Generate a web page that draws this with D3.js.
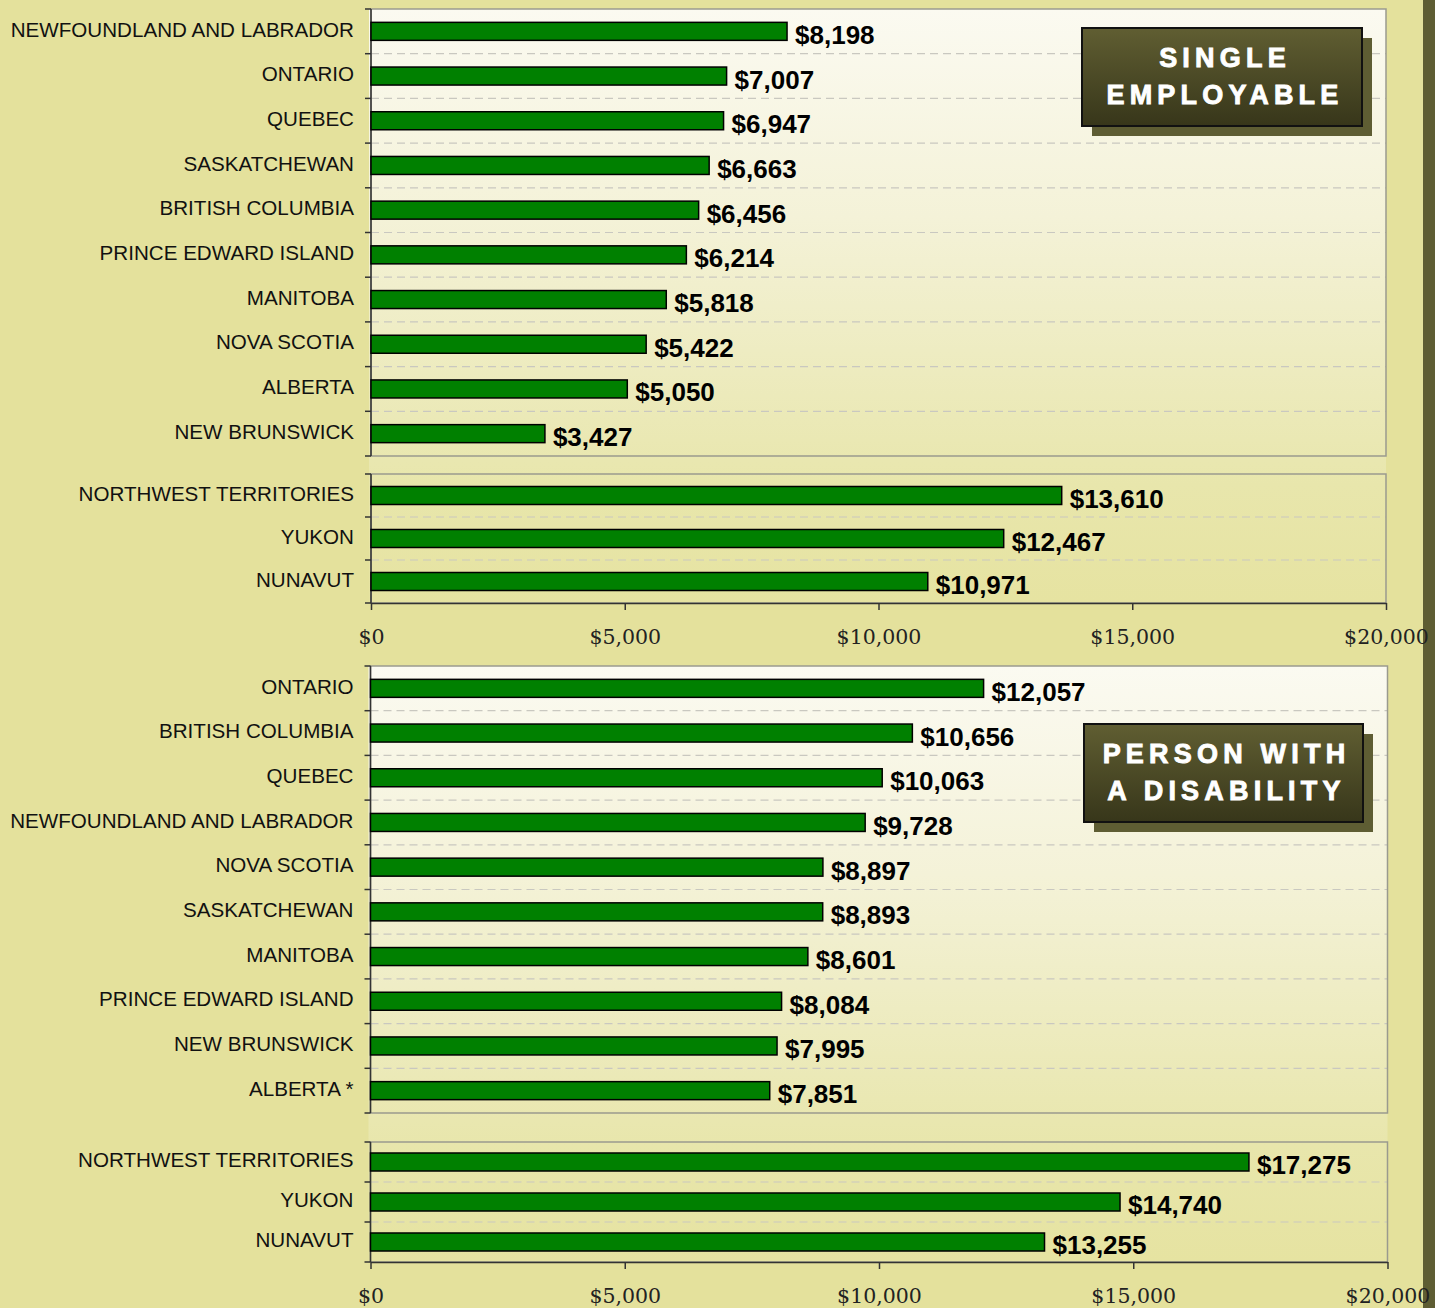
<!DOCTYPE html>
<html>
<head>
<meta charset="utf-8">
<script src="https://cdn.jsdelivr.net/npm/d3@7"></script>
<style>
  html, body { margin: 0; padding: 0; background: #fff; }
  svg { display: block; }
</style>
</head>
<body>
<div id="chart"></div>
<script>
// valeurs
var seProvinces = ["NEWFOUNDLAND AND LABRADOR", "ONTARIO", "QUEBEC", "SASKATCHEWAN", "BRITISH COLUMBIA",
  "PRINCE EDWARD ISLAND", "MANITOBA", "NOVA SCOTIA", "ALBERTA", "NEW BRUNSWICK"];
var seProvinceValues = [8198, 7007, 6947, 6663, 6456, 6214, 5818, 5422, 5050, 3427];
var seTerritories = ["NORTHWEST TERRITORIES", "YUKON", "NUNAVUT"];
var seTerritoryValues = [13610, 12467, 10971];

var pwdProvinces = ["ONTARIO", "BRITISH COLUMBIA", "QUEBEC", "NEWFOUNDLAND AND LABRADOR", "NOVA SCOTIA",
  "SASKATCHEWAN", "MANITOBA", "PRINCE EDWARD ISLAND", "NEW BRUNSWICK", "ALBERTA *"];
var pwdProvinceValues = [12057, 10656, 10063, 9728, 8897, 8893, 8601, 8084, 7995, 7851];
var pwdTerritories = ["NORTHWEST TERRITORIES", "YUKON", "NUNAVUT"];
var pwdTerritoryValues = [17275, 14740, 13255];

var xTicks = [0, 5000, 10000, 15000, 20000];
var seTitle = ["SINGLE", "EMPLOYABLE"];
var pwdTitle = ["PERSON WITH", "A DISABILITY"];

var W = 1440, H = 1308;
var svg = d3.select("#chart").append("svg")
  .attr("width", W).attr("height", H)
  .attr("font-family", "'Liberation Sans', Arial, sans-serif");

svg.append("rect").attr("width", 1435).attr("height", H).attr("fill", "#E4E19C");
svg.append("rect").attr("x", 1423).attr("width", 12).attr("height", H).attr("fill", "#5E5D33");

var defs = svg.append("defs");
var grad = defs.append("linearGradient").attr("id", "plotBg")
  .attr("x1", 0).attr("y1", 0).attr("x2", 0).attr("y2", 1);
grad.append("stop").attr("offset", 0).attr("stop-color", "#FBFAF1");
grad.append("stop").attr("offset", 0.35).attr("stop-color", "#F4F2D8");
grad.append("stop").attr("offset", 0.8).attr("stop-color", "#E8E6AC");
grad.append("stop").attr("offset", 1).attr("stop-color", "#E6E3A1");

var boxGrad = defs.append("linearGradient").attr("id", "boxBg")
  .attr("x1", 0).attr("y1", 0).attr("x2", 0).attr("y2", 1);
boxGrad.append("stop").attr("offset", 0).attr("stop-color", "#605E32");
boxGrad.append("stop").attr("offset", 1).attr("stop-color", "#37361A");

var fmt = d3.format("$,");
var barH = 18;

function drawPanel(cfg) {
  var x = d3.scaleLinear().domain([0, 20000]).range([cfg.x0, cfg.x1]);
  var g = svg.append("g");

  g.append("rect")
    .attr("x", cfg.x0 - 2).attr("y", cfg.sections[0].y0)
    .attr("width", cfg.x1 - cfg.x0 + 2).attr("height", cfg.axisY - cfg.sections[0].y0)
    .attr("fill", "url(#plotBg)");

  cfg.sections.forEach(function(s) {
    var y = d3.scaleBand().domain(s.names).range([s.y0, s.y1]);
    var bounds = s.names.map(function(n) { return y(n); }).concat([s.y1]);
    var sec = g.append("g");

    // lignes pointillees
    sec.selectAll("line.grid")
      .data(bounds.slice(1, -1))
      .enter().append("line")
        .attr("class", "grid")
        .attr("x1", cfg.x0).attr("x2", cfg.x1)
        .attr("y1", function(d) { return d; }).attr("y2", function(d) { return d; })
        .attr("stroke", "#C9C8C0").attr("stroke-width", 1.2)
        .attr("stroke-dasharray", "8,5");

    sec.append("rect")
      .attr("x", cfg.x0).attr("y", s.y0)
      .attr("width", cfg.x1 - cfg.x0).attr("height", s.y1 - s.y0)
      .attr("fill", "none").attr("stroke", "#9A9A8E").attr("stroke-width", 1.5);

    sec.selectAll("line.tick")
      .data(bounds)
      .enter().append("line")
        .attr("class", "tick")
        .attr("x1", cfg.x0 - 6).attr("x2", cfg.x0)
        .attr("y1", function(d) { return d; }).attr("y2", function(d) { return d; })
        .attr("stroke", "#333").attr("stroke-width", 1.5);

    sec.append("line")
      .attr("x1", cfg.x0).attr("x2", cfg.x0)
      .attr("y1", s.y0).attr("y2", s.y1)
      .attr("stroke", "#333").attr("stroke-width", 1.5);

    var rows = s.names.map(function(n, i) { return {name: n, value: s.values[i]}; });

    sec.selectAll("rect.bar")
      .data(rows)
      .enter().append("rect")
        .attr("class", "bar")
        .attr("x", x(0))
        .attr("y", function(d) { return y(d.name) + y.bandwidth() / 2 - barH / 2; })
        .attr("width", function(d) { return x(d.value) - x(0); })
        .attr("height", barH)
        .attr("fill", "#008000")
        .attr("stroke", "#000").attr("stroke-width", 1.5);

    sec.selectAll("text.val")
      .data(rows)
      .enter().append("text")
        .attr("class", "val")
        .attr("x", function(d) { return x(d.value) + 8; })
        .attr("y", function(d) { return y(d.name) + y.bandwidth() / 2; })
        .attr("dy", "0.48em")
        .attr("font-size", "26px").attr("font-weight", "bold")
        .attr("fill", "#000")
        .text(function(d) { return fmt(d.value); });

    sec.selectAll("text.cat")
      .data(rows)
      .enter().append("text")
        .attr("class", "cat")
        .attr("x", cfg.x0 - 17)
        .attr("y", function(d) { return y(d.name) + y.bandwidth() / 2 - 2; })
        .attr("dy", "0.35em")
        .attr("text-anchor", "end")
        .attr("font-size", "20.6px")
        .attr("fill", "#111")
        .text(function(d) { return d.name; });
  });

  var xAxis = g.append("g")
    .attr("transform", "translate(0," + cfg.axisY + ")")
    .call(d3.axisBottom(x).tickValues(xTicks).tickFormat(fmt).tickSize(7).tickPadding(19).tickSizeOuter(0));
  xAxis.select(".domain").attr("stroke", "#333").attr("stroke-width", 1.5);
  xAxis.selectAll(".tick line").attr("stroke", "#333").attr("stroke-width", 1.5);
  xAxis.selectAll(".tick text")
    .attr("font-family", "'DejaVu Serif', serif")
    .attr("font-size", "20.5px")
    .attr("fill", "#222");

  // encadre du titre
  var b = cfg.box;
  g.append("rect")
    .attr("x", b.x + 10).attr("y", b.y + 10).attr("width", b.w).attr("height", b.h)
    .attr("fill", "#5E5D33");
  g.append("rect")
    .attr("x", b.x).attr("y", b.y).attr("width", b.w).attr("height", b.h)
    .attr("fill", "url(#boxBg)").attr("stroke", "#111").attr("stroke-width", 2);
  g.selectAll("text.title")
    .data(cfg.title)
    .enter().append("text")
      .attr("class", "title")
      .attr("x", b.x + b.w / 2 + 3)
      .attr("y", function(d, i) { return b.y + 39 + i * 37; })
      .attr("text-anchor", "middle")
      .attr("font-size", "27px").attr("font-weight", "bold")
      .attr("letter-spacing", "5.2px")
      .attr("fill", "#fff")
      .attr("stroke", "#fff").attr("stroke-width", 0.9)
      .text(function(d) { return d; });
}

drawPanel({
  x0: 371, x1: 1386, axisY: 603,
  sections: [
    {names: seProvinces, values: seProvinceValues, y0: 9, y1: 456},
    {names: seTerritories, values: seTerritoryValues, y0: 474, y1: 603}
  ],
  box: {x: 1082, y: 28, w: 280, h: 98},
  title: seTitle
});

drawPanel({
  x0: 370.5, x1: 1387.5, axisY: 1262,
  sections: [
    {names: pwdProvinces, values: pwdProvinceValues, y0: 666, y1: 1113},
    {names: pwdTerritories, values: pwdTerritoryValues, y0: 1142, y1: 1262}
  ],
  box: {x: 1084, y: 724, w: 279, h: 98},
  title: pwdTitle
});
</script>
</body>
</html>
